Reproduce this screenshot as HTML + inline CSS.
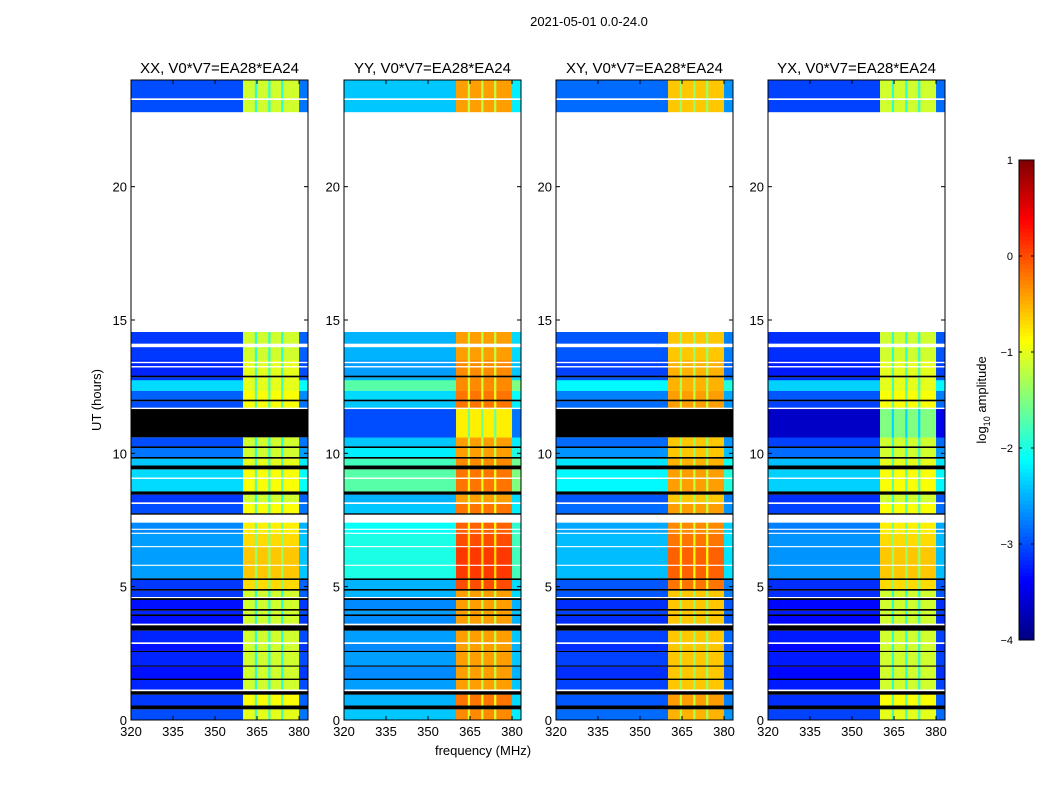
<!DOCTYPE html>
<html><head><meta charset="utf-8"><style>
html,body{margin:0;padding:0;background:#fff;}
svg{display:block;font-family:"Liberation Sans","DejaVu Sans",sans-serif;}
</style></head><body>
<svg id="fig" width="1050" height="800" viewBox="0 0 1050 800" xmlns="http://www.w3.org/2000/svg">
<rect x="0" y="0" width="1050" height="800" fill="#fff"/>
<text x="589" y="26" font-size="13" text-anchor="middle">2021-05-01 0.0-24.0</text>
<text x="483" y="755" font-size="13" text-anchor="middle">frequency (MHz)</text>
<text transform="translate(101,400) rotate(-90)" font-size="13" text-anchor="middle">UT (hours)</text>
<g id="panels"></g>
<g id="cbar"></g>
</svg>
<script>
// ---- data ----
const panelTitles = ["XX, V0*V7=EA28*EA24","YY, V0*V7=EA28*EA24","XY, V0*V7=EA28*EA24","YX, V0*V7=EA28*EA24"];
const panelBg = [-3.3,-2.7,-3.15,-3.35];
const panelBright = [-1.1,-0.4,-0.6,-1.1];
// time bands (hours); kind per panel: d=data, b=black(flagged), w=white(no data)
const bandLo =   [0,   0.4, 0.55,0.95,1.08,1.15,1.5, 1.56,2.0, 2.05,2.55,2.6, 2.85,2.92,3.35,3.55,3.62,3.9, 3.97,4.1, 4.17,4.5, 4.57,4.62,4.85,4.92,5.25,5.32,5.78,5.83,6.48,6.53,6.98,7.03,7.13,7.18,7.4, 7.7, 7.76,8.1, 8.17,8.45,8.58,9.04,9.1, 9.4, 9.55,9.8, 9.87,10.2,10.27,10.6,11.66,11.72,11.95,12.02,12.35,12.75,12.85,12.92,13.22,13.28,13.38,13.44,13.5,13.98,14.12,14.55,22.8,23.25,23.32];
const bandHi =   [0.4, 0.55,0.95,1.08,1.15,1.5, 1.56,2.0, 2.05,2.55,2.6, 2.85,2.92,3.35,3.55,3.62,3.9, 3.97,4.1, 4.17,4.5, 4.57,4.62,4.85,4.92,5.25,5.32,5.78,5.83,6.48,6.53,6.98,7.03,7.13,7.18,7.4, 7.7, 7.76,8.1, 8.17,8.45,8.58,9.04,9.1, 9.4, 9.55,9.8, 9.87,10.2,10.27,10.6,11.66,11.72,11.95,12.02,12.35,12.75,12.85,12.92,13.22,13.28,13.38,13.44,13.5,13.98,14.12,14.55,22.8,23.25,23.32,24];
const bandKind = ["dddd","bbbb","dddd","bbbb","wwww","dddd","bbbb","dddd","bbbb","dddd","bbbb","dddd","wwww","dddd","bbbb","wwww","dddd","bbbb","dddd","bbbb","dddd","bbbb","wwww","dddd","bbbb","dddd","bbbb","dddd","wwww","dddd","wwww","dddd","wwww","dddd","wwww","dddd","wwww","bbbb","dddd","wwww","dddd","bbbb","dddd","wwww","dddd","bbbb","dddd","bbbb","dddd","bbbb","dddd","bdbd","wwww","dddd","bbbb","dddd","dddd","dddd","bbbb","dddd","wwww","dddd","wwww","dddd","dddd","wwww","dddd","wwww","dddd","wwww","dddd"];
const bandBgShift = [0.3,0,0.2,0,0,0.1,0,0,0,0.1,0,0,0,0.1,0,0,0,0,0.1,0,0,0,0,0.2,0,0.2,0,0.7,0,0.7,0,0.7,0,0.6,0,0.6,0,0,0.3,0,0.2,0,1.0,0,1.0,0,0.9,0,0.5,0,0.3,-0.3,0,0.3,0,0.4,1.0,0.2,0,0.1,0,0.1,0,0.1,0.2,0,0.2,0,0.3,0,0.3];
const bandBrightShift = [0.1,0,0.2,0,0,0,0,0,0,0,0,0,0,0,0,0,0,0,0,0,0,0,0,0,0,0.4,0,0.5,0,0.5,0,0.4,0,0.3,0,0.3,0,0,0.2,0,0,0,0.2,0,0.2,0,0.1,0,0,0,0,-0.4,0,0.2,0,0.2,0.1,0.1,0,0.1,0,0.1,0,0.1,0,0,0,0,0,0,0];
// frequency columns (MHz); role: g=background, r=bright band, p=dip inside bright band, e=upper edge
const colLo =  [320, 360,  364.2,365.0,369.0,369.8,373.6,374.4,380.0];
const colHi =  [360, 364.2,365.0,369.0,369.8,373.6,374.4,380.0,383.2];
const colRole = ["g","r","p","r","p","r","p","r","e"];
const xTicks = [320,335,350,365,380];
const yTicks = [0,5,10,15,20];
const cbTicks = [1,0,-1,-2,-3,-4];
const cbLabels = ["1","0","\u22121","\u22122","\u22123","\u22124"];

// ---- layout ----
const NS="http://www.w3.org/2000/svg";
const panelX=[131,344,556,768], PW=177, PT=80, PB=720;
const fMin=320, fMax=383.2, tMin=0, tMax=24;
function jet(v){let t=(v+4)/5;t=Math.max(0,Math.min(1,t));
 const c=x=>Math.round(255*Math.max(0,Math.min(1,x)));
 return `rgb(${c(1.5-Math.abs(4*t-3))},${c(1.5-Math.abs(4*t-2))},${c(1.5-Math.abs(4*t-1))})`;}
function mk(tag,attrs,parent){const e=document.createElementNS(NS,tag);for(const k in attrs)e.setAttribute(k,attrs[k]);parent.appendChild(e);return e;}
const panels=document.getElementById('panels');
panelX.forEach((px,p)=>{
 const xs=f=>px+(f-fMin)/(fMax-fMin)*PW;
 const ys=h=>PB-(h-tMin)/(tMax-tMin)*(PB-PT);
 const g=mk('g',{},panels);
 
 
 for(let b=0;b<bandLo.length;b++){
  const k=bandKind[b][p]; const y0=ys(bandHi[b]), y1=ys(bandLo[b]);
  if(k==='w') continue;
  if(k==='b'){const r=mk('rect',{x:px,y:y0,width:PW,height:y1-y0,fill:'#000'},g);
   continue;}
  for(let c=0;c<colLo.length;c++){
   let v; const role=colRole[c];
   if(role==='g') v=panelBg[p]+bandBgShift[b];
   else if(role==='e') v=panelBg[p]+bandBgShift[b]+0.2;
   else if(role==='r') v=panelBright[p]+bandBrightShift[b];
   else v=panelBright[p]+bandBrightShift[b]-0.8;
   const r=mk('rect',{x:xs(colLo[c]),y:y0,width:xs(colHi[c])-xs(colLo[c])+0.3,height:y1-y0+0.2,fill:jet(v)},g);
   
  }
 }
 mk('rect',{x:px,y:PT,width:PW,height:PB-PT,fill:'none',stroke:'#000','stroke-width':1},g);
 const t=mk('text',{x:px+PW/2,y:73,'font-size':15,'text-anchor':'middle'},g);t.textContent=panelTitles[p];
 
 xTicks.forEach(f=>{const x=xs(f);
  mk('line',{x1:x,x2:x,y1:PB,y2:PB-4,stroke:'#000'},g);mk('line',{x1:x,x2:x,y1:PT,y2:PT+4,stroke:'#000'},g);
  const l=mk('text',{x:x,y:PB+16,'font-size':13,'text-anchor':'middle'},g);l.textContent=f;
  });
 yTicks.forEach(h=>{const y=ys(h);
  mk('line',{x1:px,x2:px+4,y1:y,y2:y,stroke:'#000'},g);mk('line',{x1:px+PW,x2:px+PW-4,y1:y,y2:y,stroke:'#000'},g);
  const l=mk('text',{x:px-4,y:y+5,'font-size':13,'text-anchor':'end'},g);l.textContent=h;
  });
});
// colorbar
const cb=document.getElementById('cbar');

const cbX=1019,cbW=15,cbT=160,cbB=640;
for(let i=0;i<120;i++){const v=-4+5*i/120;const y=cbB-(i+1)*(cbB-cbT)/120;
 mk('rect',{x:cbX,y:y,width:cbW,height:(cbB-cbT)/120+0.5,fill:jet(v+5/240)},cb);}
mk('rect',{x:cbX,y:cbT,width:cbW,height:cbB-cbT,fill:'none',stroke:'#000'},cb);
cbTicks.forEach((v,i)=>{const y=cbB-(v+4)/5*(cbB-cbT);
 mk('line',{x1:cbX,x2:cbX+3,y1:y,y2:y,stroke:'#000'},cb);mk('line',{x1:cbX+cbW,x2:cbX+cbW-3,y1:y,y2:y,stroke:'#000'},cb);
 const l=mk('text',{x:cbX-6,y:y+4,'font-size':11,'text-anchor':'end'},cb);l.textContent=cbLabels[i];
 });
const cl=mk('text',{transform:'translate(986,400) rotate(-90)','font-size':13,'text-anchor':'middle'},cb);
cl.innerHTML='log<tspan font-size="9" dy="4">10</tspan><tspan dy="-4"> amplitude</tspan>';

</script>
</body></html>
